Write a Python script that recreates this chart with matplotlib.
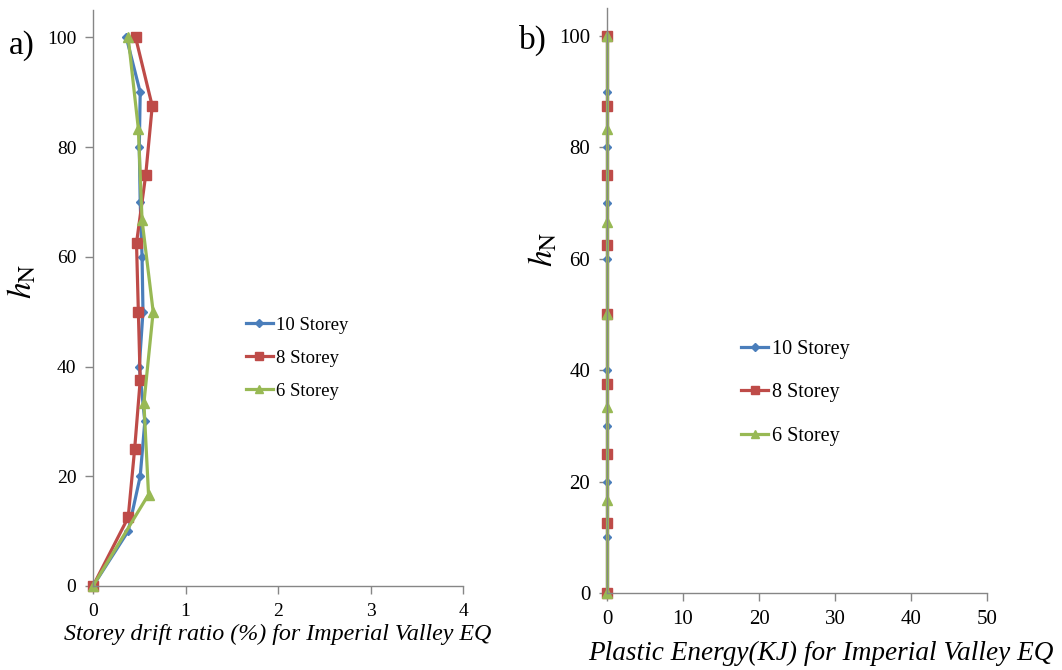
import matplotlib
matplotlib.use("Agg")
import matplotlib.pyplot as plt

# storey heights (normalised, %) for each frame
h10 = [0, 10, 20, 30, 40, 50, 60, 70, 80, 90, 100]
h8 = [0, 12.5, 25, 37.5, 50, 62.5, 75, 87.5, 100]
h6 = [0, 16.67, 33.33, 50, 66.67, 83.33, 100]

# storey drift ratio (%) - Imperial Valley EQ
drift10 = [0, 0.38, 0.51, 0.56, 0.50, 0.54, 0.53, 0.51, 0.50, 0.51, 0.36]
drift8 = [0, 0.38, 0.45, 0.51, 0.49, 0.47, 0.57, 0.64, 0.46]
drift6 = [0, 0.60, 0.55, 0.65, 0.53, 0.49, 0.38]

# plastic energy (kJ) - Imperial Valley EQ
energy10 = [0, 0, 0, 0, 0, 0, 0, 0, 0, 0, 0]
energy8 = [0, 0, 0, 0, 0, 0, 0, 0, 0]
energy6 = [0, 0, 0, 0, 0, 0, 0]

labels = ["10 Storey", "8 Storey", "6 Storey"]
colors = ["#4A7EBB", "#BE4B48", "#98B954"]
markers = ["D", "s", "^"]
msizes = [4.5, 6.5, 7]

plt.rcParams["font.family"] = ["Liberation Serif", "DejaVu Serif"]
plt.rcParams["mathtext.fontset"] = "stix"

fig = plt.figure(figsize=(10.62, 6.70), dpi=100)
ax1 = fig.add_axes([0.0876, 0.1254, 0.3484, 0.8597])
ax2 = fig.add_axes([0.5716, 0.1149, 0.3578, 0.8731])

AXIS_GREY = "#868686"


def style_axis(ax, xmax, xstep, tick_fs):
    for side in ("top", "right"):
        ax.spines[side].set_visible(False)
    for side in ("left", "bottom"):
        ax.spines[side].set_color(AXIS_GREY)
        ax.spines[side].set_linewidth(1.0)
    ax.set_xlim(0, xmax)
    ax.set_ylim(0, 105)
    ax.set_xticks(range(0, xmax + 1, xstep))
    ax.set_yticks(range(0, 101, 20))
    ax.tick_params(axis="both", direction="out", length=6, width=1.0,
                   color=AXIS_GREY, labelsize=tick_fs, pad=6)


def draw(ax, series):
    for (x, y), lab, c, m, ms in zip(series, labels, colors, markers, msizes):
        ax.plot(x, y, color=c, marker=m, markersize=ms, linewidth=2.3,
                label=lab, clip_on=False)


draw(ax1, [(drift10, h10), (drift8, h8), (drift6, h6)])
draw(ax2, [(energy10, h10), (energy8, h8), (energy6, h6)])

style_axis(ax1, 4, 1, 14)
style_axis(ax2, 50, 10, 15)

ax1.set_xlabel("Storey drift ratio (%) for Imperial Valley EQ",
               style="italic", fontsize=17.3, labelpad=3)
ax2.set_xlabel("Plastic Energy(KJ) for Imperial Valley EQ",
               style="italic", fontsize=19.6)
ax2.xaxis.set_label_coords(0.562, -0.082)

fig.text(0.021, 0.58, r"$h_{\mathrm{N}}$", rotation=90, fontsize=24,
         ha="center", va="center")
fig.text(0.512, 0.627, r"$h_{\mathrm{N}}$", rotation=90, fontsize=24,
         ha="center", va="center")

fig.text(0.008, 0.932, "a)", fontsize=24, ha="left", va="center")
fig.text(0.489, 0.940, "b)", fontsize=24, ha="left", va="center")

leg_kw = dict(frameon=False, handletextpad=0.2, borderaxespad=0,
              markerscale=0.8)
ax1.legend(loc="upper left", bbox_to_anchor=(238 / 1062, 1 - 309 / 670),
           bbox_transform=fig.transFigure, fontsize=13.5, labelspacing=0.85,
           handlelength=1.45, **leg_kw)
ax2.legend(loc="upper left", bbox_to_anchor=(733 / 1062, 1 - 332 / 670),
           bbox_transform=fig.transFigure, fontsize=14.5, labelspacing=1.2,
           handlelength=1.35, **leg_kw)

fig.savefig("out.png", dpi=100)
